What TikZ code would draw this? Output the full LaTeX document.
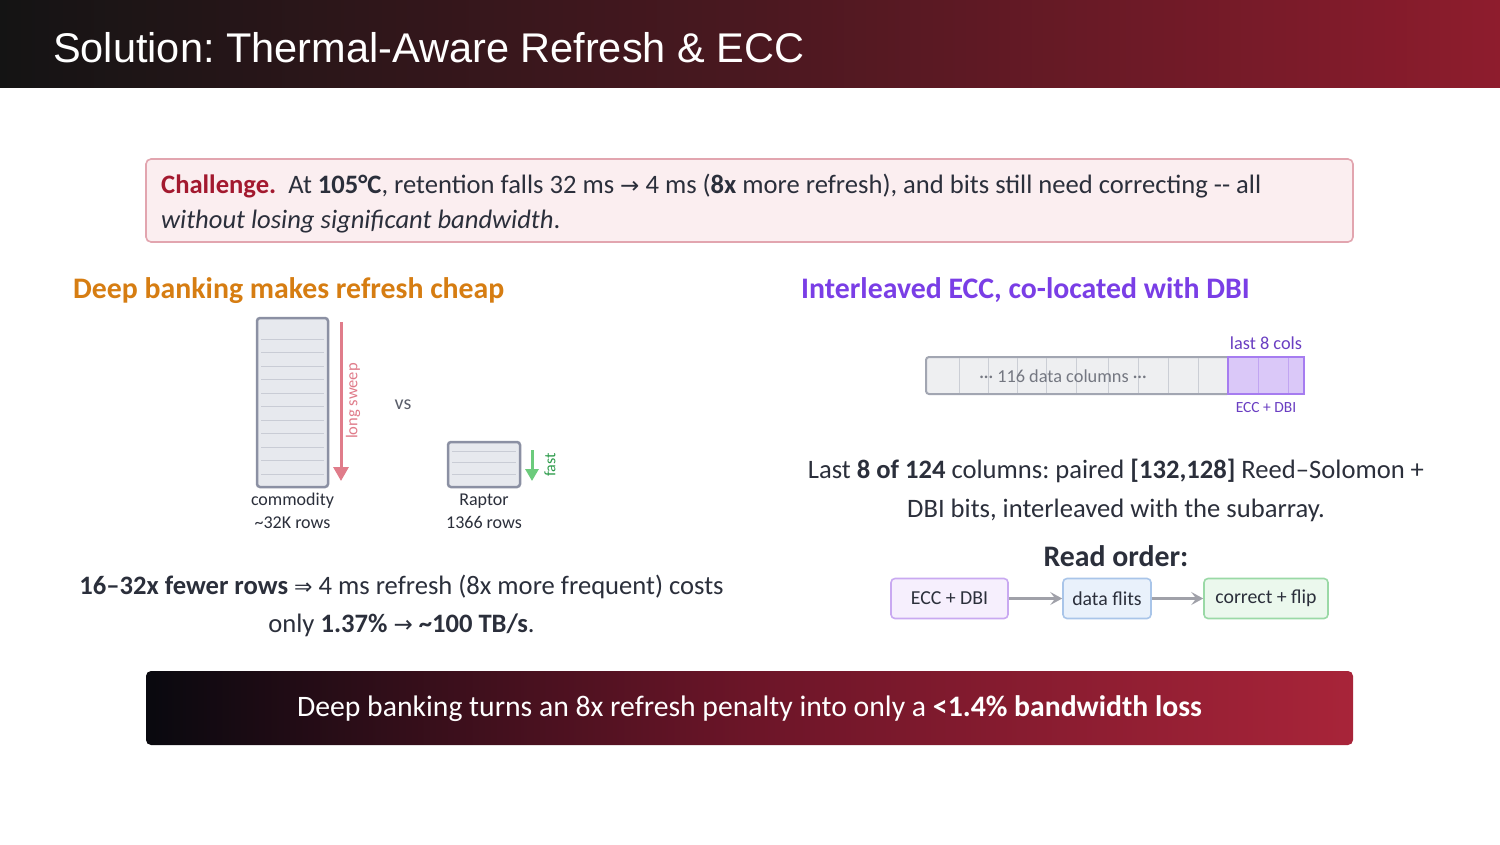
\documentclass[tikz,border=0pt]{standalone}
\usepackage{fontspec}
\setmainfont{Carlito}
\newfontfamily\arialf{Liberation Sans}
\newfontfamily\dejavu{DejaVu Sans}
\usetikzlibrary{arrows.meta,calc}
\frenchspacing
\definecolor{titleL}{HTML}{141414}
\definecolor{titleM}{HTML}{4A1820}
\definecolor{titleR}{HTML}{8E1C2D}
\definecolor{bodytxt}{HTML}{2B2F3B}
\definecolor{chalred}{HTML}{A3192F}
\definecolor{chalfill}{HTML}{FBEEF0}
\definecolor{chaldraw}{HTML}{E2A5AF}
\definecolor{orangeH}{HTML}{D67D12}
\definecolor{purpleH}{HTML}{7A3EE6}
\definecolor{bankfill}{HTML}{E7E9EE}
\definecolor{bankdraw}{HTML}{8B90A3}
\definecolor{rowline}{HTML}{C9CCD5}
\definecolor{sweep}{HTML}{E07C8A}
\definecolor{fastarrow}{HTML}{6CCB7C}
\definecolor{fasttxt}{HTML}{2E9C4C}
\definecolor{grayt}{HTML}{5B5F6B}
\definecolor{datafill}{HTML}{EEEFF1}
\definecolor{datadraw}{HTML}{A2A6B2}
\definecolor{datadiv}{HTML}{CBCED5}
\definecolor{eccfill}{HTML}{DAC8F8}
\definecolor{eccdraw}{HTML}{A67CF0}
\definecolor{eccdiv}{HTML}{C1A5F2}
\definecolor{ecctxt}{HTML}{6A3EC2}
\definecolor{f1fill}{HTML}{F6EFFD}
\definecolor{f1draw}{HTML}{C9A9F1}
\definecolor{f2fill}{HTML}{E9F1FB}
\definecolor{f2draw}{HTML}{A9C5E9}
\definecolor{f3fill}{HTML}{EBF8ED}
\definecolor{f3draw}{HTML}{9AD9A6}
\definecolor{flowarrow}{HTML}{A0A1A9}
\definecolor{banL}{HTML}{09090F}
\definecolor{banM}{HTML}{6C1528}
\definecolor{banR}{HTML}{A82439}
\newcommand{\rarr}{{\dejavu\fontsize{23}{26}\selectfont →}}
\begin{document}
\begin{tikzpicture}[x=1pt,y=-1pt,
  txt/.style={inner sep=0pt, text=bodytxt},
  body/.style={txt, font=\fontsize{26.6}{30}\selectfont},
  head/.style={inner sep=0pt, font=\bfseries\fontsize{29.8}{34}\selectfont},
  small/.style={inner sep=0pt, text=bodytxt, font=\fontsize{18}{21}\selectfont},
  bankbox/.style={draw=bankdraw, fill=bankfill, line width=2.5pt, rounded corners=3pt, inner sep=0pt},
  rowsep/.style={draw=rowline, line width=0.8pt},
  flowbox/.style={rounded corners=4pt, line width=1.6pt, inner sep=0pt, minimum height=40pt, text=bodytxt, font=\fontsize{19.8}{23}\selectfont},
  flowarr/.style={draw=flowarrow, line width=3pt, -{Stealth[length=12pt,width=13pt,inset=5pt]}},
]
\useasboundingbox (0,0) rectangle (1500,844);
\fill[white] (0,0) rectangle (1500,844);
% title bar
\shade[left color=titleL, right color=titleR, middle color=titleM] (0,0) rectangle (1500,87);
\node[anchor=base west, inner sep=0pt, text=white, font=\arialf\fontsize{41.5}{48}\selectfont] (title) at (53,62) {Solution: Thermal-Aware Refresh \& ECC};

% challenge box
\node[draw=chaldraw, fill=chalfill, line width=1.6pt, rounded corners=5pt, minimum width=1207pt, minimum height=83pt, inner sep=0pt] (chal) at (749.5,200.5) {};
\node[body, anchor=base west] (ch1) at (161,193) {\textcolor{chalred}{\textbf{Challenge.}}\ \ At \textbf{105°C}, retention falls 32 ms \rarr{} 4 ms (\textbf{8x} more refresh), and bits still need correcting -{}- all};
\node[body, anchor=base west] (ch2) at (161,228) {\textit{without losing significant bandwidth}.};

% headings
\node[head, text=orangeH, anchor=base west] (hleft) at (73,298) {Deep banking makes refresh cheap};
\node[head, text=purpleH, anchor=base west] (hright) at (801,298) {Interleaved ECC, co-located with DBI};

% commodity bank
\node[bankbox, minimum width=71pt, minimum height=169pt] (comm) at (292.5,402.5) {};
\foreach \yy in {339,352.5,...,476} \draw[rowsep] (261,\yy) -- (324,\yy);
\coordinate (ls1) at (341,322);
\coordinate (ls2) at (341,481);
\draw[draw=sweep, line width=3pt, -{Triangle[length=14pt,width=15pt]}] (ls1) -- (ls2);
\node[inner sep=0pt, text=sweep, rotate=90, font=\fontsize{16.5}{19}\selectfont] (lslab) at (353,401) {long sweep};
\node[inner sep=0pt, text=grayt, font=\fontsize{20}{23}\selectfont] (vs) at (403,405) {vs};

% raptor bank
\node[bankbox, minimum width=72pt, minimum height=45pt] (rap) at (484,464.5) {};
\foreach \yy in {451,462.5,474} \draw[rowsep] (452,\yy) -- (516,\yy);
\coordinate (fs1) at (532,450);
\coordinate (fs2) at (532,481);
\draw[draw=fastarrow, line width=3pt, -{Triangle[length=12pt,width=13pt]}] (fs1) -- (fs2);
\node[inner sep=0pt, text=fasttxt, rotate=90, font=\fontsize{16}{19}\selectfont] (fslab) at (550,465) {fast};

\node[small, anchor=base] (commlab1) at (292.5,505) {commodity};
\node[small, anchor=base] (commlab2) at (292.5,528) {\textasciitilde32K rows};
\node[small, anchor=base] (raplab1) at (484,505) {Raptor};
\node[small, anchor=base] (raplab2) at (484,528) {1366 rows};

% left conclusion
\node[body, anchor=base] (lc1) at (401.5,594) {\textbf{16–32x fewer rows} {\dejavu\fontsize{22}{26}\selectfont ⇒} 4 ms refresh (8x more frequent) costs};
\node[body, anchor=base] (lc2) at (401.5,632) {only \textbf{1.37\%} \rarr{} \textbf{\textasciitilde100 TB/s}.};

% column bar
\node[draw=datadraw, fill=datafill, line width=2pt, rounded corners=3pt, minimum width=304pt, minimum height=37pt, inner sep=0pt] (dcols) at (1078,375.5) {};
\foreach \xx in {959,988,1017,1046,1076,1108,1138,1168,1198} \draw[draw=datadiv, line width=0.9pt] (\xx,358) -- (\xx,393);
\node[draw=eccdraw, fill=eccfill, line width=2.5pt, minimum width=76pt, minimum height=37pt, inner sep=0pt] (ecols) at (1266,375.5) {};
\foreach \xx in {1258,1288} \draw[draw=eccdiv, line width=1pt] (\xx,358) -- (\xx,393);
\node[inner sep=0pt, text=grayt!85, font=\fontsize{18.3}{21}\selectfont] (dlab) at (1063,376) {··· 116 data columns ···};
\node[inner sep=0pt, text=ecctxt, font=\fontsize{18.3}{21}\selectfont] (lastlab) at (1266,343) {last 8 cols};
\node[inner sep=0pt, text=ecctxt, font=\fontsize{15.5}{18}\selectfont] (ecclab) at (1266,408) {ECC + DBI};

% right text
\node[body, anchor=base] (rc1) at (1116,478) {Last \textbf{8 of 124} columns: paired \textbf{[132,128]} Reed–Solomon +};
\node[body, anchor=base] (rc2) at (1116,517) {DBI bits, interleaved with the subarray.};
\node[head, text=bodytxt, anchor=base] (ro) at (1116,566) {Read order:};

% flow
\node[flowbox, draw=f1draw, fill=f1fill, minimum width=117pt] (fl1) at (949.5,598.5) {ECC + DBI};
\node[flowbox, draw=f2draw, fill=f2fill, minimum width=88pt] (fl2) at (1107,598.5) {data flits};
\node[flowbox, draw=f3draw, fill=f3fill, minimum width=124pt] (fl3) at (1266,598.5) {correct + flip};
\draw[flowarr] (fl1) -- (fl2);
\draw[flowarr] (fl2) -- (fl3);

% banner
\shade[rounded corners=5pt, left color=banL, right color=banR, middle color=banM] (146,671) rectangle (1353,745);
\node[inner sep=0pt, anchor=base, text=white, font=\fontsize{29.7}{34}\selectfont] (banner) at (749.5,716) {Deep banking turns an 8x refresh penalty into only a \textbf{<1.4\% bandwidth loss}};
\end{tikzpicture}
\end{document}
